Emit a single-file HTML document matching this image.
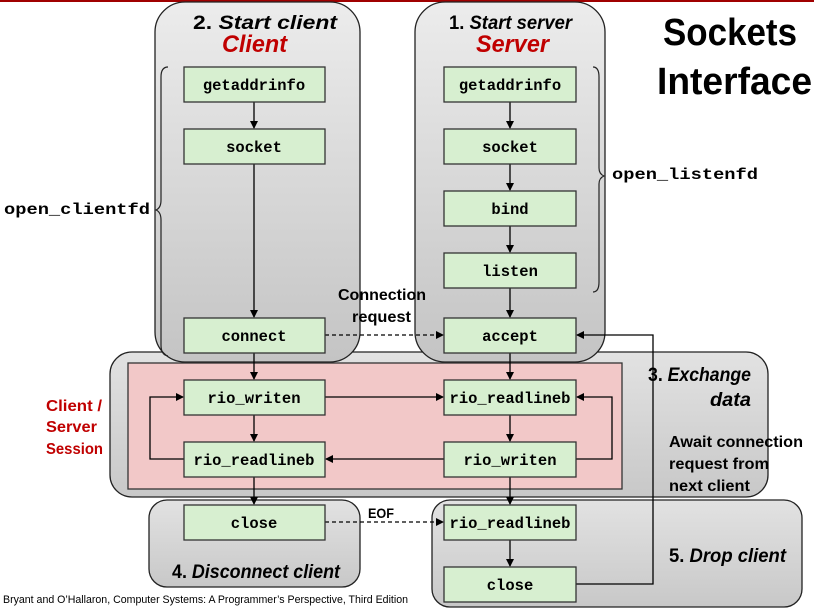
<!DOCTYPE html>
<html><head><meta charset="utf-8"><style>
html,body{margin:0;padding:0;background:#fff;}
svg{display:block;}
.m{font-family:"Liberation Mono",monospace;font-weight:bold;font-size:15.5px;}
.s{font-family:"Liberation Sans",sans-serif;font-weight:bold;}
</style></head><body>
<svg width="814" height="615" viewBox="0 0 814 615" xmlns="http://www.w3.org/2000/svg">
<defs>
<linearGradient id="g" x1="0" y1="0" x2="0" y2="1"><stop offset="0" stop-color="#ececec"/><stop offset="1" stop-color="#c4c4c4"/></linearGradient>
<linearGradient id="g2" x1="0" y1="0" x2="0" y2="1"><stop offset="0" stop-color="#e2e2e2"/><stop offset="1" stop-color="#c8c8c8"/></linearGradient>
<marker id="a" markerWidth="8" markerHeight="8" refX="7" refY="4" orient="auto" markerUnits="userSpaceOnUse"><path d="M0,0 L8,4 L0,8 z" fill="#000"/></marker>
</defs>
<rect x="0" y="0" width="814" height="2" fill="#a00000"/>
<rect x="110" y="352" width="658" height="145" rx="22" fill="url(#g2)" stroke="#222" stroke-width="1.3"/>
<rect x="155" y="2" width="205" height="360" rx="30" fill="url(#g)" stroke="#222" stroke-width="1.3"/>
<rect x="415" y="2" width="190" height="360" rx="30" fill="url(#g)" stroke="#222" stroke-width="1.3"/>
<rect x="128" y="363" width="494" height="126" fill="#f2c8c8" stroke="#333" stroke-width="1.3"/>
<rect x="149" y="500" width="211" height="87" rx="18" fill="url(#g2)" stroke="#222" stroke-width="1.3"/>
<rect x="432" y="500" width="370" height="107" rx="18" fill="url(#g2)" stroke="#222" stroke-width="1.3"/>
<path d="M168,67 Q161,67 161,77 L161,200 Q161,208 156,210 Q161,212 161,220 L161,345 Q161,355 168,356" fill="none" stroke="#222" stroke-width="1.2"/>
<path d="M593,67 Q599,67 599,77 L599,168 Q599,174 604,176 Q599,178 599,184 L599,282 Q599,292 593,292" fill="none" stroke="#222" stroke-width="1.2"/>
<text x="193" y="29" class="s" font-size="19" textLength="144" lengthAdjust="spacingAndGlyphs"><tspan>2. </tspan><tspan font-style="italic">Start client</tspan></text>
<text x="222" y="52" class="s" font-size="24" font-style="italic" fill="#c00000" textLength="65" lengthAdjust="spacingAndGlyphs">Client</text>
<text x="449" y="29" class="s" font-size="19" textLength="123" lengthAdjust="spacingAndGlyphs"><tspan>1. </tspan><tspan font-style="italic">Start server</tspan></text>
<text x="476" y="52" class="s" font-size="24" font-style="italic" fill="#c00000" textLength="73" lengthAdjust="spacingAndGlyphs">Server</text>
<text x="663" y="45" class="s" font-size="38" textLength="134" lengthAdjust="spacingAndGlyphs">Sockets</text>
<text x="657" y="94" class="s" font-size="38" textLength="155" lengthAdjust="spacingAndGlyphs">Interface</text>
<text x="4" y="214" class="m" font-size="18" textLength="146" lengthAdjust="spacingAndGlyphs">open_clientfd</text>
<text x="612" y="179" class="m" font-size="18" textLength="146" lengthAdjust="spacingAndGlyphs">open_listenfd</text>
<text x="338" y="300" class="s" font-size="16" textLength="88" lengthAdjust="spacingAndGlyphs">Connection</text>
<text x="352" y="322" class="s" font-size="16" textLength="59" lengthAdjust="spacingAndGlyphs">request</text>
<text x="46" y="411" class="s" font-size="16" fill="#c00000" textLength="56" lengthAdjust="spacingAndGlyphs">Client /</text>
<text x="46" y="432" class="s" font-size="16" fill="#c00000" textLength="51" lengthAdjust="spacingAndGlyphs">Server</text>
<text x="46" y="454" class="s" font-size="16" fill="#c00000" textLength="57" lengthAdjust="spacingAndGlyphs">Session</text>
<text x="648" y="381" class="s" font-size="19" textLength="103" lengthAdjust="spacingAndGlyphs"><tspan>3. </tspan><tspan font-style="italic">Exchange</tspan></text>
<text x="710" y="406" class="s" font-size="19" font-style="italic" textLength="41" lengthAdjust="spacingAndGlyphs">data</text>
<text x="669" y="447" class="s" font-size="16" textLength="134" lengthAdjust="spacingAndGlyphs">Await connection</text>
<text x="669" y="469" class="s" font-size="16" textLength="100" lengthAdjust="spacingAndGlyphs">request from</text>
<text x="669" y="491" class="s" font-size="16" textLength="81" lengthAdjust="spacingAndGlyphs">next client</text>
<text x="368" y="518" class="s" font-size="14" textLength="26" lengthAdjust="spacingAndGlyphs">EOF</text>
<text x="172" y="578" class="s" font-size="19" textLength="168" lengthAdjust="spacingAndGlyphs"><tspan>4. </tspan><tspan font-style="italic">Disconnect client</tspan></text>
<text x="669" y="562" class="s" font-size="19" textLength="117" lengthAdjust="spacingAndGlyphs"><tspan>5. </tspan><tspan font-style="italic">Drop client</tspan></text>
<text x="3" y="603" font-family="Liberation Sans,sans-serif" font-size="11" textLength="405" lengthAdjust="spacingAndGlyphs">Bryant and O’Hallaron, Computer Systems: A Programmer’s Perspective, Third Edition</text>
<g stroke="#000" stroke-width="1.3" fill="none">
<line x1="254" y1="102" x2="254" y2="128" marker-end="url(#a)"/>
<line x1="254" y1="164" x2="254" y2="317" marker-end="url(#a)"/>
<line x1="254" y1="353" x2="254" y2="379" marker-end="url(#a)"/>
<line x1="254" y1="415" x2="254" y2="441" marker-end="url(#a)"/>
<line x1="254" y1="477" x2="254" y2="504" marker-end="url(#a)"/>
<line x1="510" y1="102" x2="510" y2="128" marker-end="url(#a)"/>
<line x1="510" y1="164" x2="510" y2="190" marker-end="url(#a)"/>
<line x1="510" y1="226" x2="510" y2="252" marker-end="url(#a)"/>
<line x1="510" y1="288" x2="510" y2="317" marker-end="url(#a)"/>
<line x1="510" y1="353" x2="510" y2="379" marker-end="url(#a)"/>
<line x1="510" y1="415" x2="510" y2="441" marker-end="url(#a)"/>
<line x1="510" y1="477" x2="510" y2="504" marker-end="url(#a)"/>
<line x1="510" y1="540" x2="510" y2="566" marker-end="url(#a)"/>
<line x1="325" y1="397" x2="443" y2="397" marker-end="url(#a)"/>
<line x1="444" y1="459" x2="326" y2="459" marker-end="url(#a)"/>
<polyline points="184,459 150,459 150,397 183,397" marker-end="url(#a)"/>
<polyline points="576,459 612,459 612,397 577,397" marker-end="url(#a)"/>
<polyline points="576,584 653,584 653,335 577,335" marker-end="url(#a)"/>
<line x1="325" y1="335" x2="443" y2="335" stroke-dasharray="4,3" marker-end="url(#a)"/>
<line x1="325" y1="522" x2="443" y2="522" stroke-dasharray="4,3" marker-end="url(#a)"/>
</g>
<g fill="#d7efd0" stroke="#333" stroke-width="1.3">
<rect x="184" y="67" width="141" height="35"/><rect x="184" y="129" width="141" height="35"/>
<rect x="184" y="318" width="141" height="35"/><rect x="184" y="380" width="141" height="35"/>
<rect x="184" y="442" width="141" height="35"/><rect x="184" y="505" width="141" height="35"/>
<rect x="444" y="67" width="132" height="35"/><rect x="444" y="129" width="132" height="35"/>
<rect x="444" y="191" width="132" height="35"/><rect x="444" y="253" width="132" height="35"/>
<rect x="444" y="318" width="132" height="35"/><rect x="444" y="380" width="132" height="35"/>
<rect x="444" y="442" width="132" height="35"/><rect x="444" y="505" width="132" height="35"/>
<rect x="444" y="567" width="132" height="35"/>
</g>
<g class="m" text-anchor="middle">
<text x="254" y="90">getaddrinfo</text><text x="254" y="152">socket</text>
<text x="254" y="341">connect</text><text x="254" y="403">rio_writen</text>
<text x="254" y="465">rio_readlineb</text><text x="254" y="528">close</text>
<text x="510" y="90">getaddrinfo</text><text x="510" y="152">socket</text>
<text x="510" y="214">bind</text><text x="510" y="276">listen</text>
<text x="510" y="341">accept</text><text x="510" y="403">rio_readlineb</text>
<text x="510" y="465">rio_writen</text><text x="510" y="528">rio_readlineb</text>
<text x="510" y="590">close</text>
</g>
</svg>
</body></html>
